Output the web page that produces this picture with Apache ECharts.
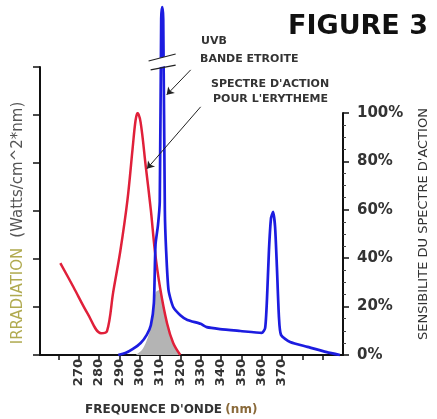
<!DOCTYPE html>
<html>
<head>
<meta charset="utf-8">
<script src="https://cdn.jsdelivr.net/npm/echarts@6/dist/echarts.min.js"></script>
<style>
html,body{margin:0;padding:0;background:#fff;}
#main{width:437px;height:419px;}
</style>
</head>
<body>
<div id="main"></div>
<script>
// lampe UVB bande etroite (axe gauche, irradiation)
const lampNm = [289.5, 293, 296.5, 300.5, 303.5, 305.5, 307, 307.8, 309, 309.9, 310.6, 311.1, 311.6, 312.4, 313, 314.2, 316.5, 320, 323.5, 330, 333, 339.5, 349.5, 360, 361.7, 362.6, 363.6, 364.6, 365.6, 366.6, 367.5, 368.5, 369.5, 374, 382.5, 392, 398.5]
const lampVal = [0, 0.04, 0.12, 0.25, 0.42, 0.62, 1.08, 2.3, 2.7, 3.2, 7.0, 7.25, 7.0, 3.0, 2.2, 1.35, 1.0, 0.83, 0.73, 0.65, 0.58, 0.54, 0.5, 0.46, 0.56, 1.15, 2.19, 2.85, 2.98, 2.67, 1.83, 0.79, 0.42, 0.27, 0.17, 0.06, 0]

// spectre d'action pour l'erytheme (axe droit, %)
const actionNm = [261, 267.5, 274.5, 281, 284, 287, 290.5, 294, 296.5, 298, 299, 300.5, 303, 305.5, 307.5, 310, 313.5, 316.5, 320]
const actionVal = [38, 28, 17, 9, 10, 26, 43, 64, 85, 97, 100, 96, 78, 60, 43, 28, 13, 5, 0]

// zone grise (recouvrement)
const overlapNm = [298, 301, 303, 305, 306.5, 308, 310, 312, 314, 316.5, 319.5]
const overlapVal = [0, 2, 5, 10, 18, 26, 27, 20, 12, 5, 0]

const xTicks = [260, 270, 280, 290, 300, 310, 320, 330, 340, 350, 360, 370, 380, 390]
const xLabels = [270, 280, 290, 300, 310, 320, 330, 340, 350, 360, 370]

const pairs = (xs, ys) => xs.map((x, i) => [x, ys[i]])

const chart = echarts.init(document.getElementById('main'))

const blk = '#111'
const txt = '#333'

// coupure "//" sur le pic de la lampe (en coordonnees d'axe)
const renderBreak = (params, api) => {
  const c = (p) => api.coord(p)
  const line = (a, b) => {
    const p = c(a), q = c(b)
    return { type: 'line', shape: { x1: p[0], y1: p[1], x2: q[0], y2: q[1] }, style: { stroke: '#222', lineWidth: 1.2 } }
  }
  return {
    type: 'group',
    children: [
      {
        type: 'polygon',
        shape: { points: [[305.4, 5.96], [317.7, 6.06], [317.7, 6.27], [304.4, 6.13]].map(c) },
        style: { fill: '#fff' }
      },
      line([304.4, 6.125], [317.7, 6.27]),
      line([305.4, 5.94], [317.7, 6.04])
    ]
  }
}

const option = {
  animation: false,
  backgroundColor: '#fff',
  grid: [
    { left: 40, right: 94, top: 67, bottom: 64 },
    { left: 40, right: 94, top: 113, bottom: 64 }
  ],
  xAxis: [
    {
      type: 'value', gridIndex: 0, min: 251, max: 400,
      axisLine: { lineStyle: { color: blk, width: 2 } },
      axisTick: { customValues: xTicks, length: 5, lineStyle: { color: blk, width: 1.5 } },
      axisLabel: {
        customValues: xLabels, rotate: 90, margin: 4,
        fontFamily: 'DejaVu Sans', fontWeight: 'bold', fontSize: 13, color: txt
      },
      splitLine: { show: false }
    },
    { type: 'value', gridIndex: 1, min: 251, max: 400, show: false }
  ],
  yAxis: [
    {
      type: 'value', gridIndex: 0, min: 0, max: 6, interval: 1,
      axisLine: { show: true, lineStyle: { color: blk, width: 2 } },
      axisTick: { show: true, length: 7, lineStyle: { color: blk, width: 1.5 } },
      axisLabel: { show: false },
      splitLine: { show: false }
    },
    {
      type: 'value', gridIndex: 1, position: 'right', min: 0, max: 100, interval: 20,
      axisLine: { show: true, lineStyle: { color: blk, width: 2 } },
      axisTick: { show: true, length: 6, lineStyle: { color: blk, width: 1.5 } },
      minorTick: { show: true, splitNumber: 4, length: 3, lineStyle: { color: '#444' } },
      axisLabel: {
        formatter: '{value}%', margin: 14,
        fontFamily: 'DejaVu Sans', fontWeight: 'bold', fontSize: 15, color: txt
      },
      splitLine: { show: false }
    }
  ],
  series: [
    {
      name: 'recouvrement', type: 'line', xAxisIndex: 1, yAxisIndex: 1,
      data: pairs(overlapNm, overlapVal), smooth: 0.3, showSymbol: false,
      lineStyle: { width: 0 }, areaStyle: { color: '#b4b4b4', opacity: 1 }, z: 1
    },
    {
      name: 'spectre', type: 'line', xAxisIndex: 1, yAxisIndex: 1,
      data: pairs(actionNm, actionVal), smooth: 0.35, showSymbol: false,
      lineStyle: { color: '#e0203a', width: 2.5 }, z: 3
    },
    {
      name: 'lampe', type: 'line', xAxisIndex: 0, yAxisIndex: 0,
      data: pairs(lampNm, lampVal), smooth: 0.2, showSymbol: false, clip: false,
      lineStyle: { color: '#1c1ce0', width: 2.7 }, z: 4,
      markLine: {
        silent: true, animation: false, label: { show: false },
        symbol: ['none', 'arrow'], symbolSize: 7,
        lineStyle: { color: '#222', width: 1, type: 'solid' },
        data: [
          // fleche vers la lampe
          [{ coord: [325.1, 5.94] }, { coord: [313.3, 5.42] }],
          // fleche vers le spectre d'action
          [{ coord: [330, 5.17] }, { coord: [303.6, 3.88] }]
        ]
      }
    },
    {
      name: 'coupure', type: 'custom', xAxisIndex: 0, yAxisIndex: 0,
      data: [[311, 6.1]], renderItem: renderBreak, clip: false, silent: true, z: 10
    }
  ],
  graphic: [
    {
      type: 'text', x: 358, y: 27,
      style: { text: 'FIGURE 3', font: 'bold 27px "DejaVu Sans"', fill: '#111', align: 'center', verticalAlign: 'middle' }
    },
    {
      type: 'text', x: 201, y: 41,
      style: { text: 'UVB', font: 'bold 11px "DejaVu Sans"', fill: txt, verticalAlign: 'middle' }
    },
    {
      type: 'text', x: 200, y: 59,
      style: { text: 'BANDE ETROITE', font: 'bold 11px "DejaVu Sans"', fill: txt, verticalAlign: 'middle' }
    },
    {
      type: 'text', x: 211, y: 84,
      style: { text: "SPECTRE D'ACTION", font: 'bold 11px "DejaVu Sans"', fill: txt, verticalAlign: 'middle' }
    },
    {
      type: 'text', x: 213, y: 99,
      style: { text: "POUR L'ERYTHEME", font: 'bold 11px "DejaVu Sans"', fill: txt, verticalAlign: 'middle' }
    },
    {
      type: 'text', x: 18, y: 223, rotation: Math.PI / 2,
      style: {
        text: '{a|IRRADIATION}   {b|(Watts/cm^2*nm)}',
        align: 'center', verticalAlign: 'middle',
        rich: {
          a: { fontFamily: 'DejaVu Sans', fontSize: 15, fill: '#b0aa50' },
          b: { fontFamily: 'DejaVu Sans', fontSize: 15, fill: '#555' }
        }
      }
    },
    {
      type: 'text', x: 424, y: 224, rotation: Math.PI / 2,
      style: {
        text: "SENSIBILITE DU SPECTRE D'ACTION",
        font: '13px "DejaVu Sans"', fill: txt, align: 'center', verticalAlign: 'middle'
      }
    },
    {
      type: 'text', x: 85, y: 410,
      style: {
        text: "{a|FREQUENCE D'ONDE} {b|(nm)}",
        verticalAlign: 'middle',
        rich: {
          a: { fontFamily: 'DejaVu Sans', fontWeight: 'bold', fontSize: 12, fill: txt },
          b: { fontFamily: 'DejaVu Sans', fontWeight: 'bold', fontSize: 12, fill: '#8a6a3a' }
        }
      }
    }
  ]
}

chart.setOption(option)
</script>
</body>
</html>
